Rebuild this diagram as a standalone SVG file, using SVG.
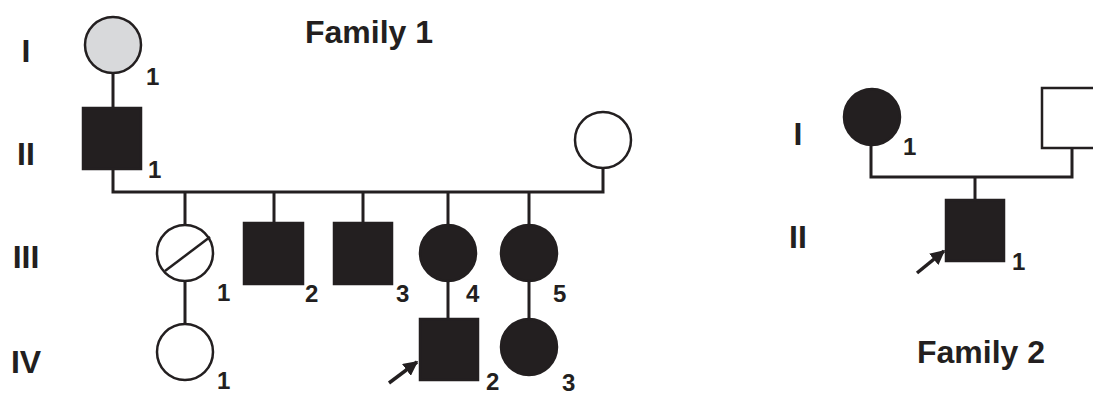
<svg xmlns="http://www.w3.org/2000/svg" width="1093" height="394" viewBox="0 0 1093 394">
<style>
.ln{stroke:#231f20;stroke-width:3;fill:none}
.ar{stroke:#231f20;stroke-width:3.5;fill:none}
.aff{fill:#231f20;stroke:#231f20;stroke-width:2.5}
.un{fill:#fff;stroke:#231f20;stroke-width:2.5}
.gr{fill:#d8d9db;stroke:#231f20;stroke-width:2.5}
.gen{font-family:"Liberation Sans",Arial,sans-serif;font-weight:bold;font-size:32px;fill:#231f20;text-anchor:middle}
.lbl{font-family:"Liberation Sans",Arial,sans-serif;font-weight:bold;font-size:24px;fill:#231f20}
.title{font-family:"Liberation Sans",Arial,sans-serif;font-weight:bold;font-size:32px;fill:#231f20}
</style>
<defs>
<marker id="ah" viewBox="0 0 10 10" refX="9" refY="5" markerWidth="4.2" markerHeight="4.2" orient="auto" markerUnits="strokeWidth">
<path d="M0,0 L10,5 L0,10 z" fill="#231f20"/>
</marker>
</defs>
<rect width="1093" height="394" fill="#fff"/>
<g id="labels">
<text class="title" x="305" y="43">Family 1</text>
<text class="title" x="917" y="363">Family 2</text>
<text class="gen" x="26" y="62">I</text>
<text class="gen" x="26" y="165">II</text>
<text class="gen" x="26" y="268">III</text>
<text class="gen" x="26" y="373">IV</text>
<text class="gen" x="798" y="145">I</text>
<text class="gen" x="798" y="248">II</text>
</g>
<g id="connectors">
<path class="ln" d="M113,73 V108"/>
<path class="ln" d="M113,169 V192 H603 V168"/>
<path class="ln" d="M185,192 V225"/>
<path class="ln" d="M274,192 V223"/>
<path class="ln" d="M363,192 V223"/>
<path class="ln" d="M448,192 V224"/>
<path class="ln" d="M529,192 V224"/>
<path class="ln" d="M185,281 V324"/>
<path class="ln" d="M448,282 V319"/>
<path class="ln" d="M529,282 V318"/>
<path class="ln" d="M871,146 V177 H1072 V148"/>
<path class="ln" d="M975,177 V200"/>
<line class="ar" x1="389" y1="383" x2="417" y2="362" marker-end="url(#ah)"/>
<line class="ar" x1="917" y1="273" x2="944" y2="251" marker-end="url(#ah)"/>
</g>
<g id="f1-I-1"><circle class="gr" cx="113" cy="45" r="28"/><text class="lbl" x="146" y="85">1</text></g>
<g id="f1-II-1"><rect class="aff" x="83" y="108" width="58" height="61"/><text class="lbl" x="148" y="178">1</text></g>
<g id="f1-II-2"><circle class="un" cx="603" cy="140" r="28"/></g>
<g id="f1-III-1"><circle class="un" cx="185" cy="253" r="28"/><line class="ln" x1="165" y1="271" x2="210" y2="237" style="stroke-width:2.5"/><text class="lbl" x="217" y="301">1</text></g>
<g id="f1-III-2"><rect class="aff" x="244" y="223" width="59" height="61"/><text class="lbl" x="305" y="302">2</text></g>
<g id="f1-III-3"><rect class="aff" x="334" y="223" width="58" height="61"/><text class="lbl" x="396" y="302">3</text></g>
<g id="f1-III-4"><circle class="aff" cx="448" cy="253" r="28"/><text class="lbl" x="466" y="302">4</text></g>
<g id="f1-III-5"><circle class="aff" cx="529" cy="253" r="28"/><text class="lbl" x="553" y="302">5</text></g>
<g id="f1-IV-1"><circle class="un" cx="185" cy="352" r="28"/><text class="lbl" x="217" y="389">1</text></g>
<g id="f1-IV-2"><rect class="aff" x="420" y="319" width="58" height="61"/><text class="lbl" x="486" y="390">2</text></g>
<g id="f1-IV-3"><circle class="aff" cx="529" cy="347" r="28"/><text class="lbl" x="562" y="391">3</text></g>
<g id="f2-I-1"><circle class="aff" cx="872" cy="117" r="28"/><text class="lbl" x="903" y="155">1</text></g>
<g id="f2-I-2"><rect class="un" x="1042" y="88" width="58" height="60"/></g>
<g id="f2-II-1"><rect class="aff" x="946" y="200" width="58" height="61"/><text class="lbl" x="1012" y="270">1</text></g>
</svg>
